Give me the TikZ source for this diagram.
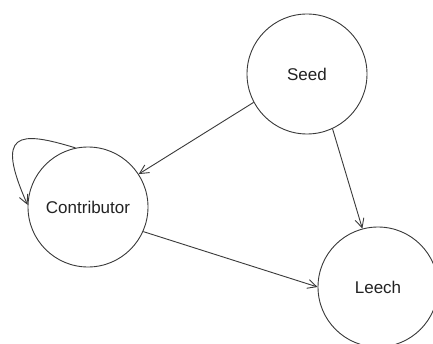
\documentclass[tikz,border=0pt]{standalone}
\usepackage{fontspec}
\setmainfont{Liberation Sans}
\usetikzlibrary{arrows.meta}
\definecolor{linecol}{HTML}{3A3A3A}
\definecolor{textcol}{HTML}{222222}
\begin{document}
\begin{tikzpicture}[x=1pt,y=1pt,
  state/.style={circle,draw=linecol,line width=0.9pt,minimum size=120pt,inner sep=0pt,
    font=\fontsize{17}{20}\selectfont,text=textcol},
  edge/.style={draw=linecol,line width=0.9pt,-{Straight Barb[length=9pt,width=9pt,line width=0.9pt]}}]
\clip (0,0) rectangle (433,343);
\fill[white] (0,0) rectangle (433,343);
\node[state] (seed) at (307,269) {Seed};
\node[state] (contrib) at (88,136) {Contributor};
\node[state] (leech) at (378,56) {Leech};
\draw[edge] (seed.208) -- (contrib.33);
\draw[edge] (seed.-65) -- (leech.105);
\draw[edge] (contrib.-24) -- (leech.180);
\draw[edge] (contrib.102) .. controls +(163:60) and +(114:80) .. (contrib.178);
\end{tikzpicture}
\end{document}
